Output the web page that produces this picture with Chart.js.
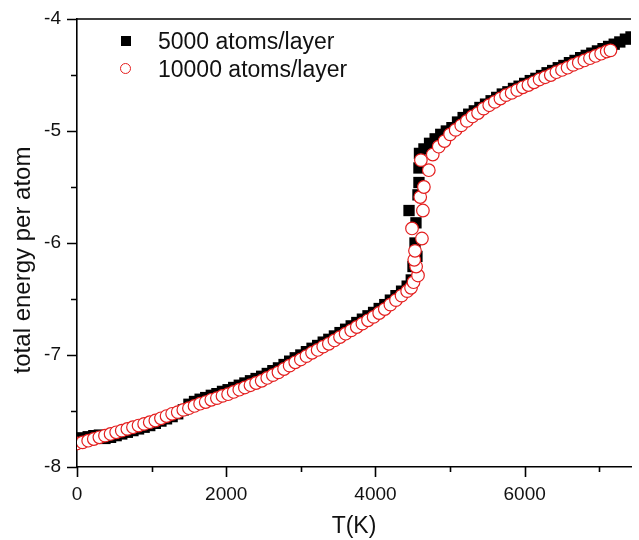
<!DOCTYPE html>
<html>
<head>
<meta charset="utf-8">
<script src="https://cdn.jsdelivr.net/npm/chart.js@4/dist/chart.umd.min.js"></script>
<style>
  html, body { margin: 0; padding: 0; background: #fff; }
  #wrap { position: relative; width: 639px; height: 540px; overflow: hidden; }
  #legend { position: absolute; left: 0; top: 0; font-family: "Liberation Sans", Arial, sans-serif; font-size: 23px; color: #111; }
  .item { position: absolute; left: 158px; height: 24px; line-height: 24px; white-space: nowrap; }
  .sq { position: absolute; width: 10px; height: 10px; background: #000; }
  .ci { position: absolute; width: 11px; height: 11px; border: 1.2px solid #e41e1e; border-radius: 50%; background: #fff; box-sizing: border-box; }
</style>
</head>
<body>
<div id="wrap">
  <canvas id="c" width="639" height="540"></canvas>
  <div id="legend">
    <div class="sq" style="left:121px; top:36px;"></div>
    <div class="item" style="top:29px;">5000 atoms/layer</div>
    <div class="ci" style="left:120px; top:63px;"></div>
    <div class="item" style="top:57px;">10000 atoms/layer</div>
  </div>
</div>
<script>
// ---- data ----
const seriesNames = ["5000 atoms/layer", "10000 atoms/layer"];

const blackT = [0,75,150,225,300,375,450,525,600,675,750,825,900,975,1050,1125,1200,1275,1350,1425,
  1500,1575,1650,1725,1800,1875,1950,2025,2100,2175,2250,2325,2400,2475,2550,2625,2700,2775,2850,2925,
  3000,3075,3150,3225,3300,3375,3450,3525,3600,3675,3750,3825,3900,3975,4050,4125,4200,4275,4350,4425,
  4480,4503,4556,4530,4543,4450,4570,4583,4583,4590,
  4650,4725,4800,4875,4950,5025,5100,5175,5250,5325,5400,5475,5550,5625,5700,5775,5850,5925,
  6000,6075,6150,6225,6300,6375,6450,6525,6600,6675,6750,6825,6900,6975,7050,7125,7200,7275,7350,7425];
const blackE = [-7.745,-7.74,-7.73,-7.72,-7.715,-7.745,-7.735,-7.72,-7.705,-7.69,-7.675,-7.66,-7.645,-7.63,-7.61,-7.59,-7.57,-7.55,-7.525,-7.49,
  -7.44,-7.415,-7.395,-7.38,-7.36,-7.345,-7.325,-7.31,-7.29,-7.27,-7.25,-7.23,-7.21,-7.19,-7.165,-7.14,-7.115,-7.085,-7.055,-7.025,
  -7.0,-6.97,-6.94,-6.915,-6.885,-6.86,-6.83,-6.80,-6.77,-6.74,-6.71,-6.68,-6.65,-6.62,-6.585,-6.55,-6.51,-6.47,-6.43,-6.385,
  -6.33,-6.21,-6.12,-6.00,-5.82,-5.71,-5.57,-5.46,-5.33,-5.20,
  -5.16,-5.11,-5.07,-5.03,-5.00,-4.97,-4.92,-4.88,-4.85,-4.82,-4.79,-4.76,-4.73,-4.70,-4.67,-4.65,-4.62,-4.60,
  -4.575,-4.55,-4.53,-4.505,-4.48,-4.46,-4.435,-4.415,-4.39,-4.37,-4.345,-4.325,-4.305,-4.285,-4.265,-4.245,-4.225,-4.205,-4.18,-4.16];

const redT = [0,75,150,225,300,375,450,525,600,675,750,825,900,975,1050,1125,1200,1275,1350,1425,
  1500,1575,1650,1725,1800,1875,1950,2025,2100,2175,2250,2325,2400,2475,2550,2625,2700,2775,2850,2925,
  3000,3075,3150,3225,3300,3375,3450,3525,3600,3675,3750,3825,3900,3975,4050,4125,4200,4275,4350,4425,
  4477,4510,4570,4545,4520,4530,4623,4490,4636,4600,4649,4715,4609,4768,4848,
  4925,5000,5075,5150,5225,5300,5375,5450,5525,5600,5675,5750,5825,5900,5975,
  6050,6125,6200,6275,6350,6425,6500,6575,6650,6725,6800,6875,6950,7025,7100,7150];
const redE = [-7.79,-7.78,-7.765,-7.75,-7.735,-7.72,-7.705,-7.69,-7.675,-7.66,-7.645,-7.63,-7.615,-7.60,-7.585,-7.565,-7.545,-7.525,-7.51,-7.49,
  -7.475,-7.455,-7.435,-7.42,-7.40,-7.385,-7.365,-7.35,-7.33,-7.31,-7.29,-7.27,-7.25,-7.23,-7.205,-7.18,-7.155,-7.125,-7.095,-7.065,
  -7.04,-7.01,-6.98,-6.955,-6.925,-6.90,-6.87,-6.84,-6.81,-6.78,-6.75,-6.72,-6.69,-6.66,-6.625,-6.59,-6.55,-6.51,-6.47,-6.43,
  -6.40,-6.35,-6.29,-6.21,-6.15,-6.07,-5.96,-5.87,-5.71,-5.59,-5.50,-5.35,-5.26,-5.21,-5.14,
  -5.09,-5.03,-4.99,-4.95,-4.91,-4.87,-4.84,-4.80,-4.77,-4.74,-4.71,-4.68,-4.66,-4.635,-4.61,
  -4.59,-4.565,-4.54,-4.52,-4.50,-4.475,-4.455,-4.435,-4.41,-4.39,-4.37,-4.35,-4.33,-4.31,-4.29,-4.28];

const xTickValues = [0, 1000, 2000, 3000, 4000, 5000, 6000, 7000];
const xLabelValues = [0, 2000, 4000, 6000];
const yTickValues = [-8, -7.5, -7, -6.5, -6, -5.5, -5, -4.5, -4];
const yLabelValues = [-8, -7, -6, -5, -4];
const xTitle = "T(K)";
const yTitle = "total energy per atom";

// ---- build ----
const toPts = (xs, ys) => xs.map((x, i) => ({ x: x, y: ys[i] }));
const FONT = "'Liberation Sans', Arial, sans-serif";

const framePlugin = {
  id: 'frameTicks',
  afterDraw(chart) {
    const ctx = chart.ctx, a = chart.chartArea;
    const xs = chart.scales.x, ys = chart.scales.y;
    ctx.save();
    ctx.strokeStyle = '#000';
    ctx.lineWidth = 1.6;
    ctx.beginPath();
    ctx.moveTo(a.left, a.top); ctx.lineTo(a.right, a.top);
    xs.ticks.forEach(t => {
      const px = Math.round(xs.getPixelForValue(t.value)) + 0.5;
      const len = xLabelValues.includes(t.value) ? 10 : 5;
      ctx.moveTo(px, a.bottom); ctx.lineTo(px, a.bottom + len);
    });
    ys.ticks.forEach(t => {
      const py = Math.round(ys.getPixelForValue(t.value)) + 0.5;
      const len = yLabelValues.includes(t.value) ? 10 : 6;
      ctx.moveTo(a.left, py); ctx.lineTo(a.left - len, py);
    });
    ctx.stroke();
    // y-axis title
    ctx.fillStyle = '#111';
    ctx.font = "24px " + FONT;
    ctx.textAlign = 'center';
    ctx.textBaseline = 'middle';
    ctx.translate(23, 260);
    ctx.rotate(-Math.PI / 2);
    ctx.fillText(yTitle, 0, 0);
    ctx.restore();
  }
};

new Chart(document.getElementById('c'), {
  type: 'scatter',
  data: {
    datasets: [
      {
        label: seriesNames[0],
        data: toPts(blackT, blackE),
        pointStyle: 'rect',
        pointRadius: 8,
        pointBackgroundColor: '#000',
        pointBorderColor: '#000',
        pointBorderWidth: 0,
        order: 2
      },
      {
        label: seriesNames[1],
        data: toPts(redT, redE),
        pointStyle: 'circle',
        pointRadius: 6.3,
        pointBackgroundColor: '#fff',
        pointBorderColor: '#e41e1e',
        pointBorderWidth: 1.2,
        order: 1
      }
    ]
  },
  options: {
    responsive: false,
    animation: false,
    devicePixelRatio: 1,
    layout: { padding: { top: 19, right: 0, left: 0, bottom: 0 } },
    plugins: { legend: { display: false }, tooltip: { enabled: false } },
    scales: {
      x: {
        type: 'linear',
        min: 0, max: 7425,
        afterBuildTicks: s => { s.ticks = xTickValues.map(v => ({ value: v })); },
        grid: { display: false, drawTicks: true, tickLength: 10 },
        border: { display: true, color: '#000', width: 1.6 },
        ticks: {
          padding: 6,
          color: '#111',
          font: { family: FONT, size: 19 },
          maxRotation: 0,
          autoSkip: false,
          callback: v => xLabelValues.includes(v) ? String(v) : ''
        },
        title: { display: true, text: xTitle, color: '#111', font: { family: FONT, size: 23 }, padding: { top: 0, bottom: 0 } },
        afterFit: s => { s.height = 73; }
      },
      y: {
        type: 'linear',
        min: -8, max: -4,
        afterBuildTicks: s => { s.ticks = yTickValues.map(v => ({ value: v })); },
        grid: { display: false, drawTicks: true, tickLength: 10 },
        border: { display: true, color: '#000', width: 1.6 },
        ticks: {
          padding: 6,
          color: '#111',
          font: { family: FONT, size: 19 },
          autoSkip: false,
          callback: v => yLabelValues.includes(v) ? String(v) : ''
        },
        title: { display: false, text: yTitle },
        afterFit: s => { s.width = 77; }
      }
    }
  },
  plugins: [framePlugin]
});
</script>
</body>
</html>
